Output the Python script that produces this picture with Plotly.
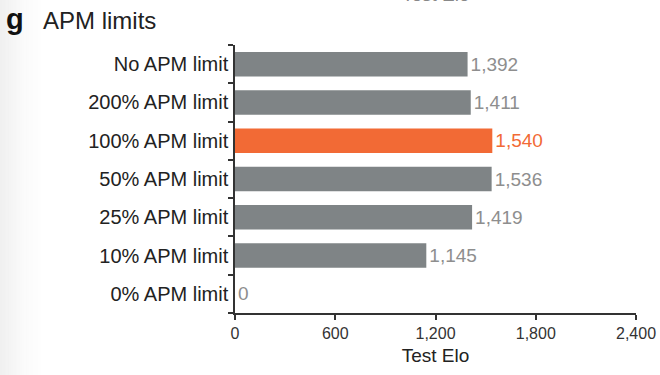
import plotly.graph_objects as go

categories = ["0% APM limit", "10% APM limit", "25% APM limit", "50% APM limit",
              "100% APM limit", "200% APM limit", "No APM limit"]
elo = [0, 1145, 1419, 1536, 1540, 1411, 1392]
highlight = "100% APM limit"
x_ticks = [0, 600, 1200, 1800, 2400]
x_ticktext = ["0", "600", "1,200", "1,800", "2,400"]

GRAY = "#7f8486"
ORANGE = "#f26a35"
LABEL_GRAY = "#8e8e8e"
FONT = "Liberation Sans, Arial, Helvetica, sans-serif"

bar_colors = [ORANGE if c == highlight else GRAY for c in categories]
text_colors = [ORANGE if c == highlight else LABEL_GRAY for c in categories]

fig = go.Figure(go.Bar(
    x=elo, y=categories, orientation="h",
    marker=dict(color=bar_colors, line=dict(width=0)),
    width=0.64,
    text=[f"{v:,}" for v in elo],
    textposition="outside",
    textfont=dict(color=text_colors, size=19, family=FONT),
    cliponaxis=False,
    hoverinfo="skip",
))

L, R, T, B = 235, 24, 45, 62
W, H = 660, 375
pw = W - L - R
ph = H - T - B

shapes = []
# soft scan shading on the left edge
n = 20
for i in range(n):
    x0 = i * 2.2
    op = 0.11 * (1 - i / n) ** 1.5
    shapes.append(dict(type="rect", xref="paper", yref="paper",
                       x0=(x0 - L) / pw, x1=(x0 + 2.2 - L) / pw,
                       y0=-B / ph - 0.1, y1=1 + T / ph + 0.1,
                       fillcolor="#777777", opacity=op, line=dict(width=0),
                       layer="below"))

fig.update_layout(
    width=W, height=H,
    margin=dict(l=L, r=R, t=T, b=B, autoexpand=False),
    paper_bgcolor="white", plot_bgcolor="white",
    font=dict(family=FONT, color="#222222"),
    showlegend=False,
    bargap=0.36,
    shapes=shapes,
    xaxis=dict(
        range=[0, 2400], tickvals=x_ticks, ticktext=x_ticktext,
        showgrid=False, zeroline=False,
        showline=True, linecolor="#333333", linewidth=1.5,
        ticks="outside", ticklen=5, tickwidth=1.5, tickcolor="#333333",
        tickfont=dict(size=16, color="#333333"),
        title=dict(text="Test Elo", font=dict(size=19, color="#222222"), standoff=8),
    ),
    yaxis=dict(
        type="category", categoryorder="array", categoryarray=categories,
        range=[-0.5, 6.5],
        showgrid=False, zeroline=False,
        showline=True, linecolor="#333333", linewidth=1.5,
        ticks="outside", ticklen=5, tickwidth=1.5, tickcolor="#333333",
        tickson="boundaries",
        tickfont=dict(size=20, color="#222222"),
        ticklabelstandoff=1,
    ),
    annotations=[
        dict(text="<b>g</b>", xref="paper", yref="paper",
             x=(4 - L) / pw, y=1 + (T - 37) / ph, xanchor="left", yanchor="bottom",
             showarrow=False, font=dict(size=29, color="#111111", family=FONT)),
        dict(text="APM limits", xref="paper", yref="paper",
             x=(41 - L) / pw, y=1 + (T - 36) / ph, xanchor="left", yanchor="bottom",
             showarrow=False, font=dict(size=24, color="#222222", family=FONT)),
        dict(text="Test Elo", xref="paper", yref="paper",
             x=0.5, y=1 + (T - 6.5) / ph, xanchor="center", yanchor="bottom",
             showarrow=False, font=dict(size=19, color="#888888", family=FONT)),
    ],
)

fig.write_html("out.html",
               config={"displayModeBar": False},
               post_script="document.body.style.margin='0px';document.body.style.overflow='hidden';")
